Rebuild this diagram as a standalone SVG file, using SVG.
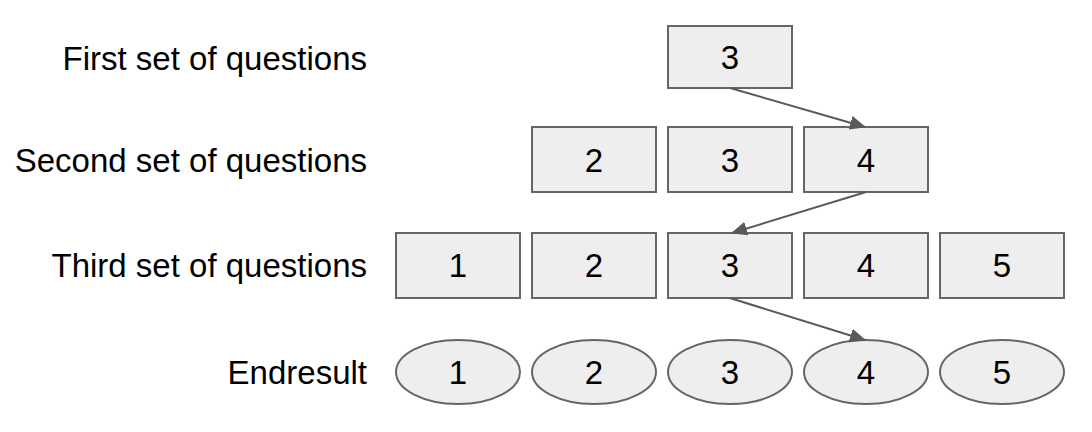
<svg xmlns="http://www.w3.org/2000/svg" width="1092" height="432" viewBox="0 0 1092 432">
<style>
.b{fill:#eeeeee;stroke:#666666;stroke-width:2}
.t{font-family:"Liberation Sans",Arial,sans-serif;font-size:33px;fill:#000}
.c{text-anchor:middle}
.l{text-anchor:end}
.a{stroke:#595959;stroke-width:2;fill:none;marker-end:url(#ah)}
</style>
<defs><marker id="ah" markerWidth="16" markerHeight="14" refX="15" refY="7" orient="auto" markerUnits="userSpaceOnUse"><path d="M0,0 L16,7 L0,14 z" fill="#595959"/></marker></defs>
<g id="labels">
<text class="t l" x="367" y="70">First set of questions</text>
<text class="t l" x="367" y="172">Second set of questions</text>
<text class="t l" x="367" y="277">Third set of questions</text>
<text class="t l" x="367" y="384">Endresult</text>
</g>
<g id="r1"><rect class="b" x="668" y="26" width="124" height="62"/><text class="t c" x="730" y="69">3</text></g>
<g id="r2a"><rect class="b" x="532" y="127" width="124" height="65"/><text class="t c" x="594" y="172">2</text></g>
<g id="r2b"><rect class="b" x="668" y="127" width="124" height="65"/><text class="t c" x="730" y="172">3</text></g>
<g id="r2c"><rect class="b" x="804" y="127" width="124" height="65"/><text class="t c" x="866" y="172">4</text></g>
<g id="r3a"><rect class="b" x="396" y="233" width="124" height="65"/><text class="t c" x="458" y="277">1</text></g>
<g id="r3b"><rect class="b" x="532" y="233" width="124" height="65"/><text class="t c" x="594" y="277">2</text></g>
<g id="r3c"><rect class="b" x="668" y="233" width="124" height="65"/><text class="t c" x="730" y="277">3</text></g>
<g id="r3d"><rect class="b" x="804" y="233" width="124" height="65"/><text class="t c" x="866" y="277">4</text></g>
<g id="r3e"><rect class="b" x="940" y="233" width="124" height="65"/><text class="t c" x="1002" y="277">5</text></g>
<g id="e1"><ellipse class="b" cx="458" cy="372" rx="62" ry="32"/><text class="t c" x="458" y="384">1</text></g>
<g id="e2"><ellipse class="b" cx="594" cy="372" rx="62" ry="32"/><text class="t c" x="594" y="384">2</text></g>
<g id="e3"><ellipse class="b" cx="730" cy="372" rx="62" ry="32"/><text class="t c" x="730" y="384">3</text></g>
<g id="e4"><ellipse class="b" cx="866" cy="372" rx="62" ry="32"/><text class="t c" x="866" y="384">4</text></g>
<g id="e5"><ellipse class="b" cx="1002" cy="372" rx="62" ry="32"/><text class="t c" x="1002" y="384">5</text></g>
<g id="connectors">
<line class="a" x1="730" y1="88" x2="865" y2="127"/>
<line class="a" x1="866" y1="192" x2="732" y2="233"/>
<line class="a" x1="730" y1="298" x2="865" y2="340"/>
</g>
</svg>
